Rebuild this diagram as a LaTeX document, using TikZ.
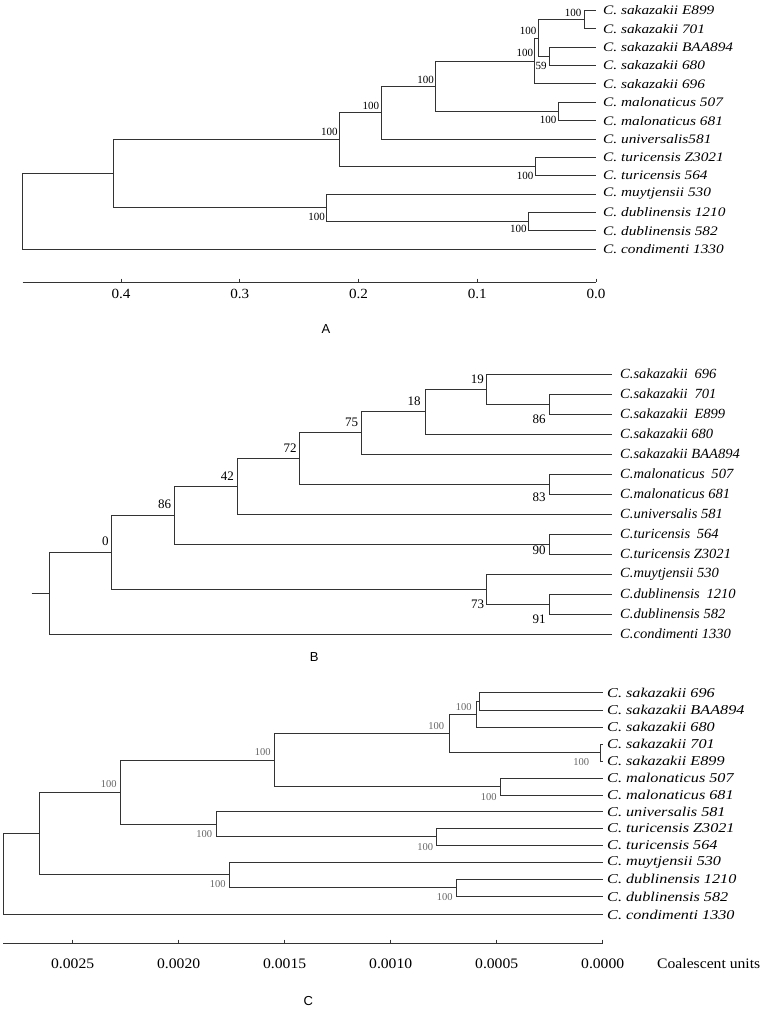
\documentclass[tikz,border=0pt]{standalone}
\usepackage{fontspec}
\usepackage{graphicx}
\setmainfont{Liberation Serif}
\newfontfamily\fsans{Liberation Sans}
\newcommand{\stA}[1]{\scalebox{1.18}[1]{#1}}
\newcommand{\stB}[1]{\scalebox{1.04}[1]{#1}}
\newcommand{\stC}[1]{\scalebox{1.20}[1]{#1}}
\newcommand{\stT}[1]{\scalebox{1.08}[1]{#1}}
\begin{document}
\begin{tikzpicture}[x=1pt,y=-1pt,
  br/.style={draw=black!80, line width=0.9pt},
  ax/.style={draw=black!80, line width=0.9pt},
  leafA/.style={anchor=west, inner sep=0pt, font=\itshape\fontsize{13}{15}\selectfont},
  leafB/.style={anchor=west, inner sep=0pt, font=\itshape\fontsize{14}{16}\selectfont},
  leafC/.style={anchor=west, inner sep=0pt, font=\itshape\fontsize{13.5}{15}\selectfont},
  bsA/.style={anchor=east, inner sep=0pt, font=\fontsize{11}{12}\selectfont},
  bsB/.style={anchor=east, inner sep=0pt, font=\fontsize{13}{15}\selectfont},
  bsC/.style={anchor=east, inner sep=0pt, text=black!60, font=\fontsize{10.5}{11}\selectfont},
  tkA/.style={inner sep=0pt, font=\fontsize{14}{16}\selectfont},
  tkC/.style={inner sep=0pt, font=\fontsize{14.5}{16}\selectfont},
  panel/.style={inner sep=0pt, font=\fsans\fontsize{13}{15}\selectfont}
]
\useasboundingbox (0,0) rectangle (764,1013);

% ================= Panel A =================
\foreach \y/\t [count=\i] in {
  10.5/C. sakazakii E899, 28.85/C. sakazakii 701, 47.2/C. sakazakii BAA894,
  65.55/C. sakazakii 680, 83.9/C. sakazakii 696, 102.25/C. malonaticus 507,
  120.6/C. malonaticus 681, 138.95/C. universalis581, 157.3/C. turicensis Z3021,
  175.65/C. turicensis 564, 194/C. muytjensii 530, 212.35/C. dublinensis 1210,
  230.7/C. dublinensis 582, 249.05/C. condimenti 1330}{
  \coordinate (Al\i) at (596,\y);
  \node[leafA] (At\i) at (603,\y) {\stA{\t}};
}
\coordinate (Aa1) at (584,19.7);
\coordinate (Aa2) at (549.3,56.4);
\coordinate (Aa3) at (538.3,38.0);
\coordinate (Aa4) at (534.3,61);
\coordinate (Aa5) at (558.7,111.4);
\coordinate (Aa6) at (435.7,86.2);
\coordinate (Aa7) at (381,112.6);
\coordinate (Aa8) at (535.7,166.5);
\coordinate (Aa9) at (339.3,139.5);
\coordinate (Aa10) at (528.7,221.5);
\coordinate (Aa11) at (326.3,207.8);
\coordinate (Aa12) at (113.7,173.6);
\coordinate (Ar) at (22.7,211.3);
\foreach \p/\c in {Aa1/Al1, Aa1/Al2, Aa2/Al3, Aa2/Al4, Aa3/Aa1, Aa3/Aa2,
  Aa4/Aa3, Aa4/Al5, Aa5/Al6, Aa5/Al7, Aa6/Aa4, Aa6/Aa5, Aa7/Aa6, Aa7/Al8,
  Aa8/Al9, Aa8/Al10, Aa9/Aa7, Aa9/Aa8, Aa10/Al12, Aa10/Al13, Aa11/Al11,
  Aa11/Aa10, Aa12/Aa9, Aa12/Aa11, Ar/Aa12, Ar/Al14}
  \draw[br] (\p) |- (\c);
\node[bsA] (Ab1) at (581.5,13.3) {100};
\node[bsA] (Ab3) at (536.5,31) {100};
\node[bsA] (Ab4) at (533.3,53.3) {100};
\node[bsA] (Ab2) at (546.7,65.7) {59};
\node[bsA] (Ab6) at (434,80) {100};
\node[bsA] (Ab5) at (556.5,120) {100};
\node[bsA] (Ab8) at (533.5,175.7) {100};
\node[bsA] (Ab10) at (526.7,229.3) {100};
\node[bsA] (Ab7) at (379.3,105.7) {100};
\node[bsA] (Ab9) at (337.7,132.3) {100};
\node[bsA] (Ab11) at (325,217) {100};
% axis A
\coordinate (AxL) at (22.7,282);
\coordinate (AxR) at (596,282);
\draw[ax] (AxL) -- (AxR);
\foreach \v/\x [count=\i] in {0.4/121, 0.3/239.75, 0.2/358.5, 0.1/477.25, 0.0/596}{
  \draw[ax] (\x,278.5) -- (\x,282);
  \node[tkA] (Atk\i) at (\x,293.5) {\stT{\v}};
}
\node[panel] (LA) at (326,329) {A};

% ================= Panel B =================
\foreach \t [count=\i] in {
  C.sakazakii\hspace{3pt} 696, C.sakazakii\hspace{3pt} 701, C.sakazakii\hspace{3pt} E899,
  C.sakazakii 680, C.sakazakii BAA894, C.malonaticus\hspace{3pt} 507,
  C.malonaticus 681, C.universalis 581, C.turicensis\hspace{3pt} 564,
  C.turicensis Z3021, C.muytjensii 530, C.dublinensis\hspace{3pt} 1210,
  C.dublinensis 582, C.condimenti 1330}{
  \pgfmathsetmacro{\yy}{354+20*\i}
  \coordinate (Bl\i) at (612,\yy);
  \node[leafB] (Bt\i) at (620,\yy) {\stB{\t}};
}
\coordinate (Bn86a) at (549.7,404);
\coordinate (Bn19) at (486.7,389);
\coordinate (Bn18) at (425,411.5);
\coordinate (Bn75) at (361.7,432.75);
\coordinate (Bn83) at (549.7,484);
\coordinate (Bn72) at (299.3,458.4);
\coordinate (Bn42) at (237,486.2);
\coordinate (Bn90) at (549.7,544);
\coordinate (Bn86) at (174,515.1);
\coordinate (Bn91) at (549.7,604);
\coordinate (Bn73) at (486.7,589);
\coordinate (Bn0) at (111.3,552);
\coordinate (Br) at (49.3,593);
\coordinate (Bstub) at (31.7,593);
\foreach \p/\c in {Bn86a/Bl2, Bn86a/Bl3, Bn19/Bl1, Bn19/Bn86a, Bn18/Bn19, Bn18/Bl4,
  Bn75/Bn18, Bn75/Bl5, Bn83/Bl6, Bn83/Bl7, Bn72/Bn75, Bn72/Bn83, Bn42/Bn72, Bn42/Bl8,
  Bn90/Bl9, Bn90/Bl10, Bn86/Bn42, Bn86/Bn90, Bn91/Bl12, Bn91/Bl13, Bn73/Bl11,
  Bn73/Bn91, Bn0/Bn86, Bn0/Bn73, Br/Bn0, Br/Bl14}
  \draw[br] (\p) |- (\c);
\draw[br] (Bstub) -- (Br);
\node[bsB] (Bb19) at (484,379) {19};
\node[bsB] (Bb18) at (420.7,401) {18};
\node[bsB] (Bb86a) at (545.7,419.3) {86};
\node[bsB] (Bb83) at (545.7,497.3) {83};
\node[bsB] (Bb90) at (545.7,550.7) {90};
\node[bsB] (Bb73) at (484.3,604) {73};
\node[bsB] (Bb91) at (545.7,619.3) {91};
\node[bsB] (Bb75) at (358.3,422.7) {75};
\node[bsB] (Bb72) at (296.7,448) {72};
\node[bsB] (Bb42) at (234,475.7) {42};
\node[bsB] (Bb86) at (171.3,504.7) {86};
\node[bsB] (Bb0) at (108.7,541.7) {0};
\node[panel] (LB) at (314.3,656.7) {B};

% ================= Panel C =================
\foreach \y/\t [count=\i] in {
  692.7/C. sakazakii 696, 710/C. sakazakii BAA894, 727.3/C. sakazakii 680,
  744.3/C. sakazakii 701, 761/C. sakazakii E899, 778/C. malonaticus 507,
  795/C. malonaticus 681, 811.7/C. universalis 581, 828.5/C. turicensis Z3021,
  845.3/C. turicensis 564, 862/C. muytjensii 530, 879/C. dublinensis 1210,
  896.7/C. dublinensis 582, 914.7/C. condimenti 1330}{
  \coordinate (Cl\i) at (602.7,\y);
  \node[leafC] (Ct\i) at (607,\y) {\stC{\t}};
}
\coordinate (Cc1) at (479,701.35);
\coordinate (Cc2) at (476,714.3);
\coordinate (Cc3) at (600,752.65);
\coordinate (Cc4) at (449.3,733.5);
\coordinate (Cc5) at (500,786.5);
\coordinate (Cc6) at (274,760);
\coordinate (Cc7) at (436.7,836.9);
\coordinate (Cc8) at (216,824.3);
\coordinate (Cc9) at (120,792.1);
\coordinate (Cc10) at (456,887.9);
\coordinate (Cc11) at (229.3,874.9);
\coordinate (Cc12) at (39.7,833.5);
\coordinate (Cr) at (3.3,874.1);
\foreach \p/\c in {Cc1/Cl1, Cc1/Cl2, Cc2/Cc1, Cc2/Cl3, Cc3/Cl4, Cc3/Cl5,
  Cc4/Cc2, Cc4/Cc3, Cc5/Cl6, Cc5/Cl7, Cc6/Cc4, Cc6/Cc5, Cc7/Cl9, Cc7/Cl10,
  Cc8/Cl8, Cc8/Cc7, Cc9/Cc6, Cc9/Cc8, Cc10/Cl12, Cc10/Cl13, Cc11/Cl11,
  Cc11/Cc10, Cc12/Cc9, Cc12/Cc11, Cr/Cc12, Cr/Cl14}
  \draw[br] (\p) |- (\c);
\node[bsC] (Cb2) at (471.7,706.7) {100};
\node[bsC] (Cb4) at (444.3,726) {100};
\node[bsC] (Cb3) at (589.3,762.3) {100};
\node[bsC] (Cb5) at (496.7,796.7) {100};
\node[bsC] (Cb7) at (433.3,846.7) {100};
\node[bsC] (Cb10) at (452.7,896.7) {100};
\node[bsC] (Cb6) at (270.7,752.3) {100};
\node[bsC] (Cb9) at (116.7,784.3) {100};
\node[bsC] (Cb8) at (212.3,834) {100};
\node[bsC] (Cb11) at (225.7,884.3) {100};
% axis C
\coordinate (CxL) at (3.3,943.3);
\coordinate (CxR) at (602.7,943.3);
\draw[ax] (CxL) -- (CxR);
\foreach \v/\x [count=\i] in {0.0025/72.7, 0.0020/178.7, 0.0015/284.7, 0.0010/390.7, 0.0005/496.7, 0.0000/602.7}{
  \draw[ax] (\x,939.5) -- (\x,943.3);
  \node[tkC] (Ctk\i) at (\x,963.3) {\stT{\v}};
}
\node[tkC, anchor=west] (Cunits) at (657,963.3) {\stT{Coalescent units}};
\node[panel] (LC) at (308.3,1001) {C};
\end{tikzpicture}
\end{document}
